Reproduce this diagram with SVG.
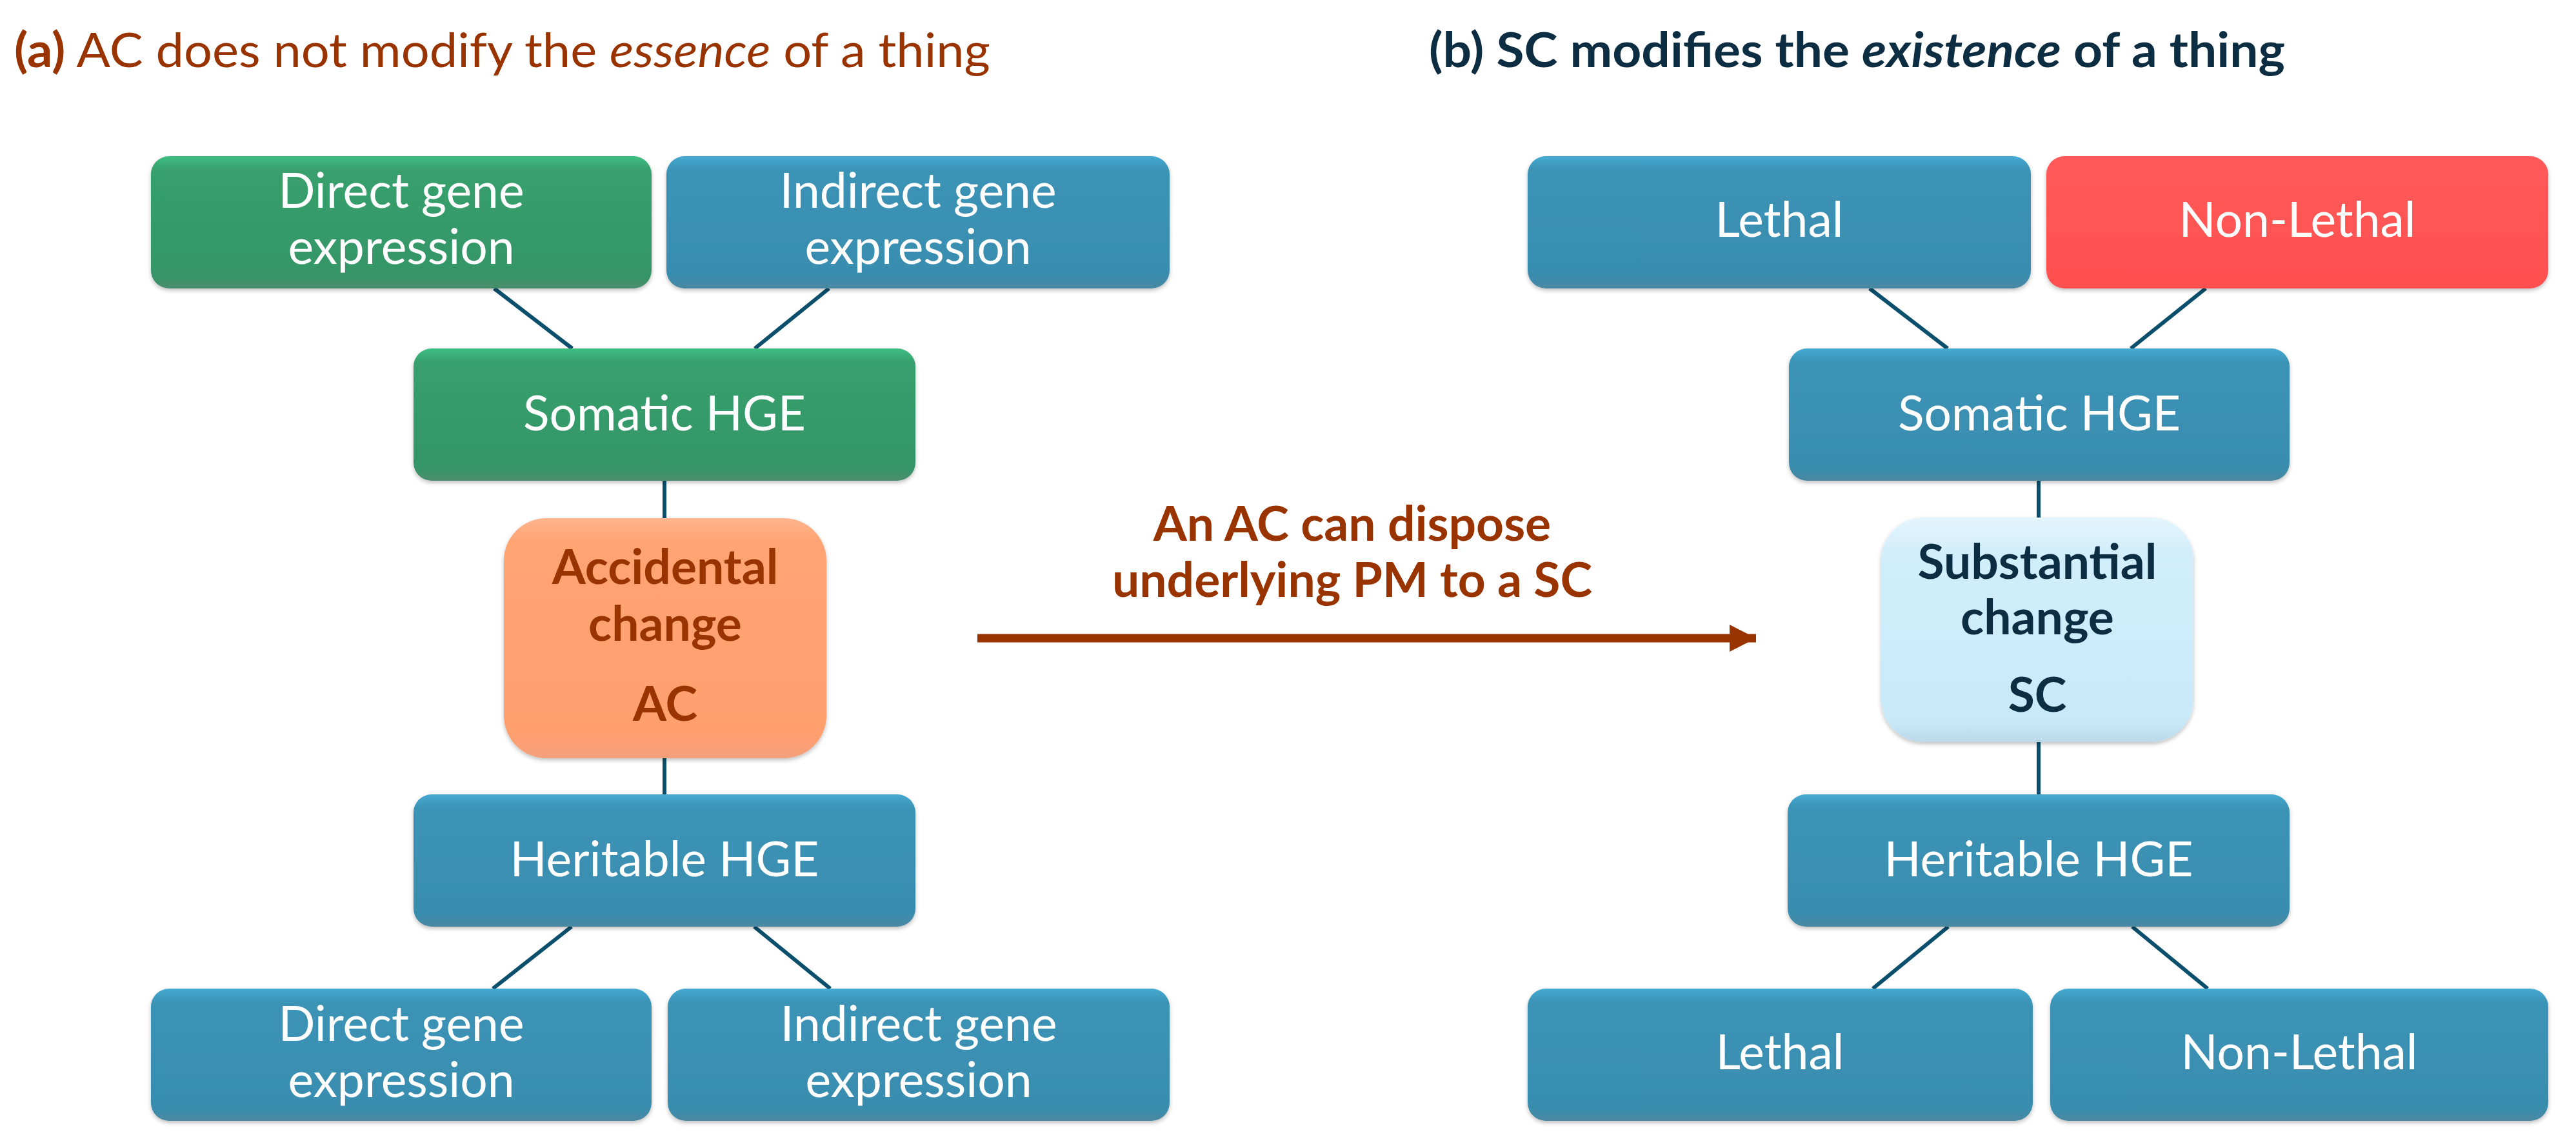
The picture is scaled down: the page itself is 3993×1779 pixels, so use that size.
<svg xmlns="http://www.w3.org/2000/svg" width="3993" height="1779" viewBox="0 0 3993 1779">
<style>
  .box { stroke: none; filter: url(#sh); }
  .blue { fill: url(#gBlue); }
  .green { fill: url(#gGreen); }
  .red { fill: url(#gRed); }
  .t { font-family: Lato, "Open Sans", sans-serif; font-size: 75px; fill: #FFFFFF; text-anchor: middle; }
  .tb { font-family: Lato, "Open Sans", sans-serif; font-size: 75px; font-weight: bold; text-anchor: middle; }
  .brown { fill: #993300; }
  .navy { fill: #0C2D42; }
  .conn { stroke: #0B4F6C; stroke-width: 6; fill: none; }
  .title { font-family: Lato, "Open Sans", sans-serif; font-size: 74px; }
</style>
<defs>
  <linearGradient id="gBlue" x1="0" y1="0" x2="0" y2="1">
    <stop offset="0" stop-color="#45AAD2"/>
    <stop offset="0.1" stop-color="#3B93B6"/>
    <stop offset="0.9" stop-color="#398DAF"/>
    <stop offset="1" stop-color="#4A88A2"/>
  </linearGradient>
  <linearGradient id="gGreen" x1="0" y1="0" x2="0" y2="1">
    <stop offset="0" stop-color="#3FBE83"/>
    <stop offset="0.1" stop-color="#37A06D"/>
    <stop offset="0.9" stop-color="#349567"/>
    <stop offset="1" stop-color="#4C8E6E"/>
  </linearGradient>
  <linearGradient id="gRed" x1="0" y1="0" x2="0" y2="1">
    <stop offset="0" stop-color="#FF5A5A"/>
    <stop offset="1" stop-color="#FF4F4F"/>
  </linearGradient>
  <linearGradient id="gAC" x1="0" y1="0" x2="0" y2="1">
    <stop offset="0" stop-color="#FFB48C"/>
    <stop offset="0.1" stop-color="#FFA473"/>
    <stop offset="0.9" stop-color="#FF9F6E"/>
    <stop offset="1" stop-color="#F2A07C"/>
  </linearGradient>
  <linearGradient id="gSC" x1="0" y1="0" x2="0" y2="1">
    <stop offset="0" stop-color="#E4F5FD"/>
    <stop offset="0.15" stop-color="#D2EEFB"/>
    <stop offset="0.9" stop-color="#C9E9F9"/>
    <stop offset="1" stop-color="#BBD9E8"/>
  </linearGradient>
  <filter id="sh" x="-5%" y="-5%" width="110%" height="115%">
    <feDropShadow dx="0" dy="3" stdDeviation="3" flood-color="#000000" flood-opacity="0.25"/>
  </filter>
  <marker id="ah" markerUnits="userSpaceOnUse" markerWidth="44" markerHeight="44" refX="41" refY="21" orient="auto">
    <polygon points="0,0 41,21 0,42" fill="#993300"/>
  </marker>
</defs>

<rect width="3993" height="1779" fill="#FFFFFF"/>

<!-- Titles -->
<text class="title brown" x="22" y="104" textLength="1513" lengthAdjust="spacingAndGlyphs"><tspan font-weight="bold">(a)</tspan> AC does not modify the <tspan font-style="italic">essence</tspan> of a thing</text>
<text class="title navy" x="2215" y="104" font-weight="bold" textLength="1327" lengthAdjust="spacingAndGlyphs">(b)  SC modifies the <tspan font-style="italic">existence</tspan> of a thing</text>

<!-- Connectors -->
<g id="connectors">
  <line class="conn" x1="766" y1="447" x2="887" y2="540"/>
  <line class="conn" x1="1285" y1="447" x2="1170" y2="540"/>
  <line class="conn" x1="1030" y1="745" x2="1030" y2="803"/>
  <line class="conn" x1="1030" y1="1175" x2="1030" y2="1231"/>
  <line class="conn" x1="886" y1="1436" x2="764" y2="1532"/>
  <line class="conn" x1="1169" y1="1436" x2="1287" y2="1532"/>

  <line class="conn" x1="2898" y1="447" x2="3019" y2="540"/>
  <line class="conn" x1="3419" y1="447" x2="3303" y2="540"/>
  <line class="conn" x1="3160" y1="745" x2="3160" y2="802"/>
  <line class="conn" x1="3160" y1="1150" x2="3160" y2="1231"/>
  <line class="conn" x1="3020" y1="1436" x2="2903" y2="1532"/>
  <line class="conn" x1="3305" y1="1436" x2="3422" y2="1532"/>

  <line id="arrow" x1="1515" y1="989" x2="2722" y2="989" stroke="#993300" stroke-width="13" marker-end="url(#ah)"/>
  <text class="tb brown" x="2096" y="838">An AC can dispose</text>
  <text class="tb brown" x="2096" y="925">underlying PM to a SC</text>
</g>

<!-- Left side nodes -->
<g id="a-direct-top">
  <rect class="box green" x="234" y="242" width="776" height="205" rx="28"/>
  <text class="t" x="622" y="322">Direct gene</text>
  <text class="t" x="622" y="409">expression</text>
</g>
<g id="a-indirect-top">
  <rect class="box blue" x="1033" y="242" width="780" height="205" rx="28"/>
  <text class="t" x="1423" y="322">Indirect gene</text>
  <text class="t" x="1423" y="409">expression</text>
</g>
<g id="a-somatic">
  <rect class="box green" x="641" y="540" width="778" height="205" rx="28"/>
  <text class="t" x="1030" y="667">Somatic HGE</text>
</g>
<g id="a-ac">
  <rect class="box" fill="url(#gAC)" x="781" y="803" width="500" height="372" rx="66"/>
  <text class="tb brown" x="1031" y="905">Accidental</text>
  <text class="tb brown" x="1031" y="993">change</text>
  <text class="tb brown" x="1031" y="1117">AC</text>
</g>
<g id="a-heritable">
  <rect class="box blue" x="641" y="1231" width="778" height="205" rx="28"/>
  <text class="t" x="1030" y="1358">Heritable HGE</text>
</g>
<g id="a-direct-bottom">
  <rect class="box blue" x="234" y="1532" width="776" height="205" rx="28"/>
  <text class="t" x="622" y="1613">Direct gene</text>
  <text class="t" x="622" y="1700">expression</text>
</g>
<g id="a-indirect-bottom">
  <rect class="box blue" x="1035" y="1532" width="778" height="205" rx="28"/>
  <text class="t" x="1424" y="1613">Indirect gene</text>
  <text class="t" x="1424" y="1700">expression</text>
</g>

<!-- Right side nodes -->
<g id="b-lethal-top">
  <rect class="box blue" x="2368" y="242" width="780" height="205" rx="28"/>
  <text class="t" x="2758" y="367">Lethal</text>
</g>
<g id="b-nonlethal-top">
  <rect class="box red" x="3172" y="242" width="778" height="205" rx="28"/>
  <text class="t" x="3561" y="367">Non-Lethal</text>
</g>
<g id="b-somatic">
  <rect class="box blue" x="2773" y="540" width="776" height="205" rx="28"/>
  <text class="t" x="3161" y="667">Somatic HGE</text>
</g>
<g id="b-sc">
  <rect class="box" fill="url(#gSC)" x="2916" y="802" width="484" height="348" rx="66"/>
  <text class="tb navy" x="3158" y="897">Substantial</text>
  <text class="tb navy" x="3158" y="983">change</text>
  <text class="tb navy" x="3158" y="1103">SC</text>
</g>
<g id="b-heritable">
  <rect class="box blue" x="2771" y="1231" width="778" height="205" rx="28"/>
  <text class="t" x="3160" y="1358">Heritable HGE</text>
</g>
<g id="b-lethal-bottom">
  <rect class="box blue" x="2368" y="1532" width="783" height="205" rx="28"/>
  <text class="t" x="2759" y="1657">Lethal</text>
</g>
<g id="b-nonlethal-bottom">
  <rect class="box blue" x="3178" y="1532" width="772" height="205" rx="28"/>
  <text class="t" x="3564" y="1657">Non-Lethal</text>
</g>
</svg>
